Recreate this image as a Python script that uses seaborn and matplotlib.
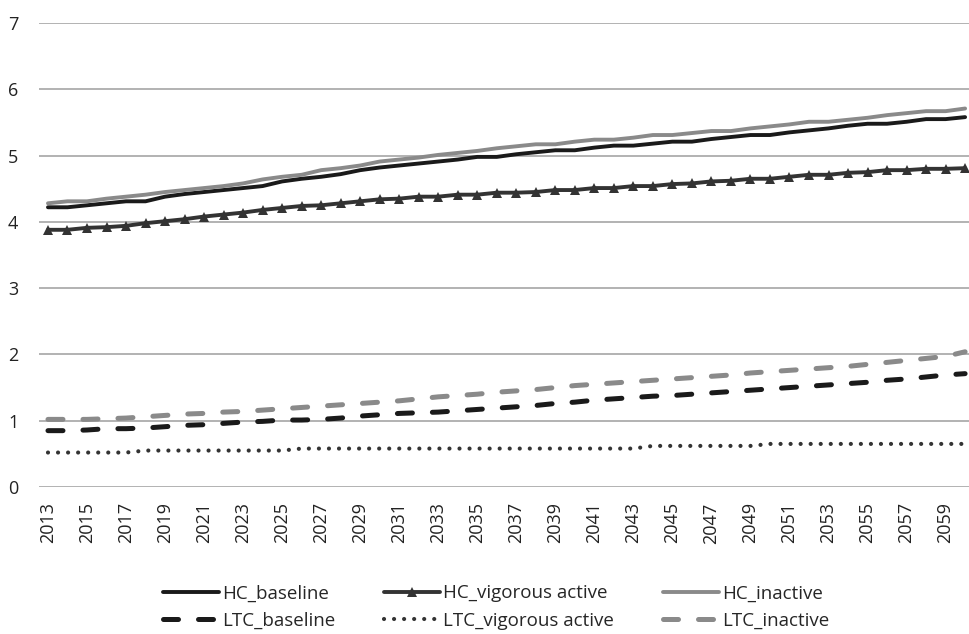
import numpy as np
import pandas as pd
import matplotlib
matplotlib.use("Agg")
import matplotlib.pyplot as plt
import seaborn as sns

years = list(range(2013, 2061))

hc_baseline = [4.22, 4.22, 4.25, 4.28, 4.31, 4.31, 4.38, 4.42, 4.45, 4.48, 4.51, 4.54,
               4.61, 4.65, 4.68, 4.72, 4.78, 4.82, 4.85, 4.88, 4.91, 4.94, 4.98, 4.98,
               5.02, 5.05, 5.08, 5.08, 5.12, 5.15, 5.15, 5.18, 5.21, 5.21, 5.25, 5.28,
               5.31, 5.31, 5.35, 5.38, 5.41, 5.45, 5.48, 5.48, 5.51, 5.55, 5.55, 5.58]
hc_vigorous = [3.88, 3.88, 3.91, 3.92, 3.94, 3.98, 4.01, 4.04, 4.08, 4.11, 4.14, 4.18,
               4.21, 4.24, 4.25, 4.28, 4.31, 4.34, 4.35, 4.38, 4.38, 4.41, 4.41, 4.44,
               4.44, 4.45, 4.48, 4.48, 4.51, 4.51, 4.54, 4.54, 4.57, 4.58, 4.61, 4.62,
               4.65, 4.65, 4.68, 4.71, 4.71, 4.74, 4.75, 4.78, 4.78, 4.80, 4.80, 4.81]
hc_inactive = [4.28, 4.31, 4.31, 4.35, 4.38, 4.41, 4.45, 4.48, 4.51, 4.54, 4.58, 4.64,
               4.68, 4.71, 4.78, 4.81, 4.85, 4.91, 4.94, 4.97, 5.01, 5.04, 5.07, 5.11,
               5.14, 5.17, 5.17, 5.21, 5.24, 5.24, 5.27, 5.31, 5.31, 5.34, 5.37, 5.37,
               5.41, 5.44, 5.47, 5.51, 5.51, 5.54, 5.57, 5.61, 5.64, 5.67, 5.67, 5.71]
ltc_baseline = [0.85, 0.85, 0.86, 0.88, 0.88, 0.89, 0.91, 0.93, 0.94, 0.96, 0.98, 0.99,
                1.01, 1.01, 1.02, 1.04, 1.07, 1.09, 1.11, 1.12, 1.13, 1.15, 1.17, 1.19,
                1.21, 1.23, 1.26, 1.28, 1.31, 1.33, 1.35, 1.37, 1.38, 1.40, 1.42, 1.44,
                1.46, 1.48, 1.50, 1.52, 1.54, 1.56, 1.58, 1.61, 1.63, 1.66, 1.69, 1.71]
ltc_vigorous = [0.52, 0.52, 0.52, 0.52, 0.52, 0.55, 0.55, 0.55, 0.55, 0.55, 0.55, 0.55,
                0.55, 0.58, 0.58, 0.58, 0.58, 0.58, 0.58, 0.58, 0.58, 0.58, 0.58, 0.58,
                0.58, 0.58, 0.58, 0.58, 0.58, 0.58, 0.58, 0.62, 0.62, 0.62, 0.62, 0.62,
                0.62, 0.65, 0.65, 0.65, 0.65, 0.65, 0.65, 0.65, 0.65, 0.65, 0.65, 0.65]
ltc_inactive = [1.02, 1.02, 1.02, 1.03, 1.04, 1.06, 1.08, 1.10, 1.11, 1.13, 1.14, 1.16,
                1.18, 1.20, 1.22, 1.24, 1.26, 1.28, 1.30, 1.33, 1.36, 1.38, 1.40, 1.43,
                1.45, 1.47, 1.50, 1.53, 1.55, 1.57, 1.59, 1.61, 1.63, 1.65, 1.67, 1.69,
                1.72, 1.74, 1.76, 1.78, 1.80, 1.82, 1.85, 1.88, 1.91, 1.94, 1.97, 2.04]

series_names = ["HC_baseline", "HC_vigorous active", "HC_inactive",
                "LTC_baseline", "LTC_vigorous active", "LTC_inactive"]
series_values = [hc_baseline, hc_vigorous, hc_inactive,
                 ltc_baseline, ltc_vigorous, ltc_inactive]
tick_years = list(range(2013, 2060, 2))
y_ticks = list(range(0, 8))

sns.set_theme(style="white")
plt.rcParams["font.family"] = ["Open Sans", "DejaVu Sans"]

fig = plt.figure(figsize=(9.69, 6.34), dpi=100)
ax = fig.add_axes([39 / 969, 1 - 487 / 634, 1 - 39 / 969, (487 - 23) / 634])

styles = {
    "HC_baseline": dict(color="#1a1a1a", lw=2.8),
    "HC_vigorous active": dict(color="#333333", lw=2.8, marker="^", markersize=7.5,
                               markeredgewidth=0),
    "HC_inactive": dict(color="#8a8a8a", lw=2.8),
    "LTC_baseline": dict(color="#1a1a1a", lw=3.6, dashes=(3.0, 4.0),
                         dash_capstyle="round"),
    "LTC_vigorous active": dict(color="#333333", lw=3.0, dashes=(0.01, 2.4),
                                dash_capstyle="round"),
    "LTC_inactive": dict(color="#8a8a8a", lw=3.6, dashes=(3.0, 4.0),
                         dash_capstyle="round"),
}

for name, vals in zip(series_names, series_values):
    df = pd.DataFrame({"year": years, "value": vals})
    st = dict(styles[name])
    dashes = st.pop("dashes", None)
    line_ax = sns.lineplot(data=df, x="year", y="value", ax=ax, label=name, **st)
    if dashes is not None:
        line_ax.lines[-1].set_dashes(dashes)

for y in y_ticks:
    ax.axhline(y, color="#a6a6a6", lw=1.2, zorder=0)

ax.set_xlim(2012.54, 2060.2)
ax.set_ylim(0, 7)
ax.set_yticks(y_ticks)
ax.set_xticks(tick_years)
ax.set_xticklabels([str(t) for t in tick_years], rotation=90)
ax.tick_params(axis="x", labelsize=13, pad=11, length=0, colors="#222222")
ax.tick_params(axis="y", labelsize=13, pad=15, length=0, colors="#222222")
ax.set_xlabel("")
ax.set_ylabel("")
for s in ax.spines.values():
    s.set_visible(False)
ax.grid(False)

handles, labels = ax.get_legend_handles_labels()
ax.get_legend().remove()
order = ["HC_baseline", "LTC_baseline", "HC_vigorous active",
         "LTC_vigorous active", "HC_inactive", "LTC_inactive"]
hmap = dict(zip(labels, handles))
fig.legend([hmap[o] for o in order], order, loc="center",
           bbox_to_anchor=(496 / 969, 1 - 607 / 634), ncol=3, frameon=False,
           fontsize=13.5, handlelength=3.0, handletextpad=0.15,
           columnspacing=2.6, labelspacing=0.5)

fig.savefig("out.png", dpi=100)
